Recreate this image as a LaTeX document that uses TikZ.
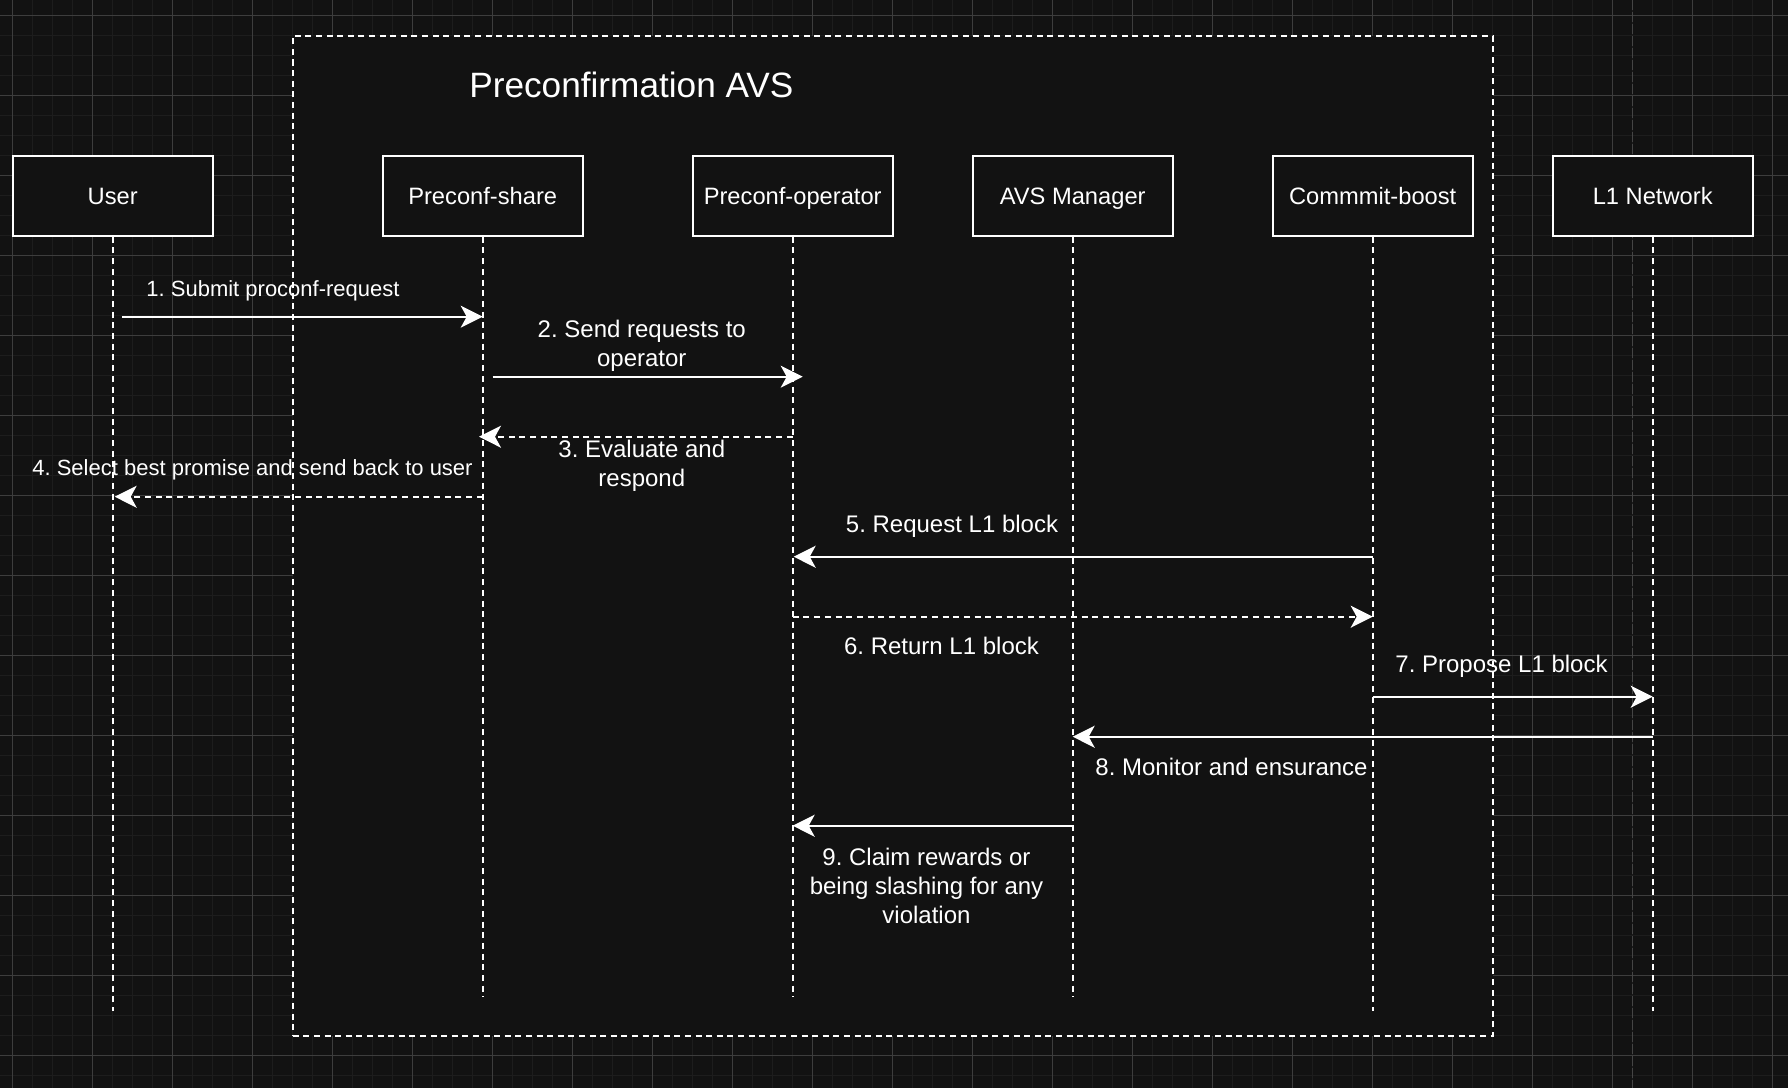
\documentclass[tikz,border=0pt]{standalone}
\usepackage{fontspec}
\setmainfont{Liberation Sans}
\usepackage{tikz}
\usetikzlibrary{positioning,calc,arrows.meta}
\frenchspacing
\definecolor{canvas}{HTML}{121212}
\definecolor{gridminor}{HTML}{1D1D1D}
\definecolor{gridmajor}{HTML}{3D3D3D}
\definecolor{guide}{HTML}{454545}
\tikzset{minorline/.style={draw=gridminor, line width=0.5pt}}
\tikzset{majorline/.style={draw=gridmajor, line width=0.5pt}}
\tikzset{avsframe/.style={draw=white, fill=canvas, line width=1pt, dash pattern=on 3pt off 2.3pt, inner sep=0pt}}
\tikzset{actor/.style={draw=white, fill=canvas, text=white, line width=1pt, minimum width=100pt, minimum height=40pt, inner sep=0pt, text height=8.5pt, text depth=0pt, font=\fontsize{11.85}{14}\selectfont}}
\tikzset{lifeline/.style={draw=white, line width=0.85pt, dash pattern=on 3pt off 2.35pt}}
\tikzset{msg/.style={draw=white, line width=1pt, -{Stealth[length=11pt, width=11pt, inset=3pt]}}}
\tikzset{reply/.style={msg, dash pattern=on 3pt off 2.35pt}}
\tikzset{msglabel/.style={text=white, align=center, inner sep=0pt, font=\fontsize{12}{14.3}\selectfont}}
\tikzset{smalllabel/.style={msglabel, font=\fontsize{11}{13}\selectfont}}

\begin{document}
\begin{tikzpicture}[x=0.5pt, y=-0.5pt]
            \fill[canvas] (0,0) rectangle (1788,1088);
            \useasboundingbox (0,0) rectangle (1788,1088);
            % background grid
            \foreach \i in {0,...,90} {
                \draw[minorline] ({-7.3+20*\i},0) -- ({-7.3+20*\i},1088);
            }
            \foreach \i in {0,...,55} {
                \draw[minorline] (0,{-4.5+20*\i}) -- (1788,{-4.5+20*\i});
            }
            \foreach \i in {0,...,22} {
                \draw[majorline] ({12.7+80*\i},0) -- ({12.7+80*\i},1088);
            }
            \foreach \i in {0,...,13} {
                \draw[majorline] (0,{15.5+80*\i}) -- (1788,{15.5+80*\i});
            }
            \draw[guide, line width=0.75pt, dash pattern=on 5pt off 1pt] (1632.7,0) -- (1632.7,1088);

            \node[avsframe, minimum width=600pt, minimum height=500pt] (avs) at (892.7,535.7) {};
            \node[text=white, font=\fontsize{17.6}{21}\selectfont] (title) at (631.4,85.2) {Preconfirmation AVS};

            \node[actor] (user)     at ( 112.7,195.7) {User};
            \node[actor] (share)    at ( 482.7,195.7) {Preconf-share};
            \node[actor] (operator) at ( 792.7,195.7) {Preconf-operator};
            \node[actor] (manager)  at (1072.7,195.7) {AVS Manager};
            \node[actor] (boost)    at (1372.7,195.7) {Commmit-boost};
            \node[actor] (lone)     at (1652.7,195.7) {L1 Network};

            \foreach \who/\len in {user/774, share/760, operator/760, manager/760, boost/774, lone/774} {
                \draw[lifeline] (\who.south) -- ++(0,\len);
            }

            % messages
            \draw[msg]   ($(user.south)+(9.6,80)$)    -- ($(share.south)+(0,80)$);
            \draw[msg]   ($(share.south)+(9.8,140)$)  -- ($(operator.south)+(10,140)$);
            \draw[reply] ($(operator.south)+(0,200)$) -- ($(share.south)+(-3.7,200)$);
            \draw[reply] ($(share.south)+(0,260)$)    -- ($(user.south)+(2,260)$);
            \draw[msg]   ($(boost.south)+(0,320)$)    -- ($(operator.south)+(1,320)$);
            \draw[reply] ($(operator.south)+(0,380)$) -- ($(boost.south)+(0,380)$);
            \draw[msg]   ($(boost.south)+(0,460)$)    -- ($(lone.south)+(0,460)$);
            \draw[msg]   ($(lone.south)+(0,500)$)     -- ($(manager.south)+(0,500)$);
            \draw[msg]   ($(manager.south)+(0,589)$)  -- ($(operator.south)+(0,589)$);

            \node[smalllabel] (lab1) at ( 273.0,290.4) {1. Submit proconf-request};
            \node[msglabel]   (lab2) at ( 641.8,346.0) {2. Send requests to\\operator};
            \node[msglabel]   (lab3) at ( 641.8,465.6) {3. Evaluate and\\respond};
            \node[smalllabel] (lab4) at ( 252.5,470.0) {4. Select best promise and send back to user};
            \node[msglabel]   (lab5) at ( 952.0,526.0) {5. Request L1 block};
            \node[msglabel]   (lab6) at ( 941.5,646.0) {6. Return L1 block};
            \node[msglabel]   (lab7) at (1501.5,666.5) {7. Propose L1 block};
            \node[msglabel]   (lab8) at (1231.5,766.5) {8. Monitor and ensurance};
            \node[msglabel]   (lab9) at ( 926.5,886.0) {9. Claim rewards or\\being slashing for any\\violation};

        \end{tikzpicture}
\end{document}
